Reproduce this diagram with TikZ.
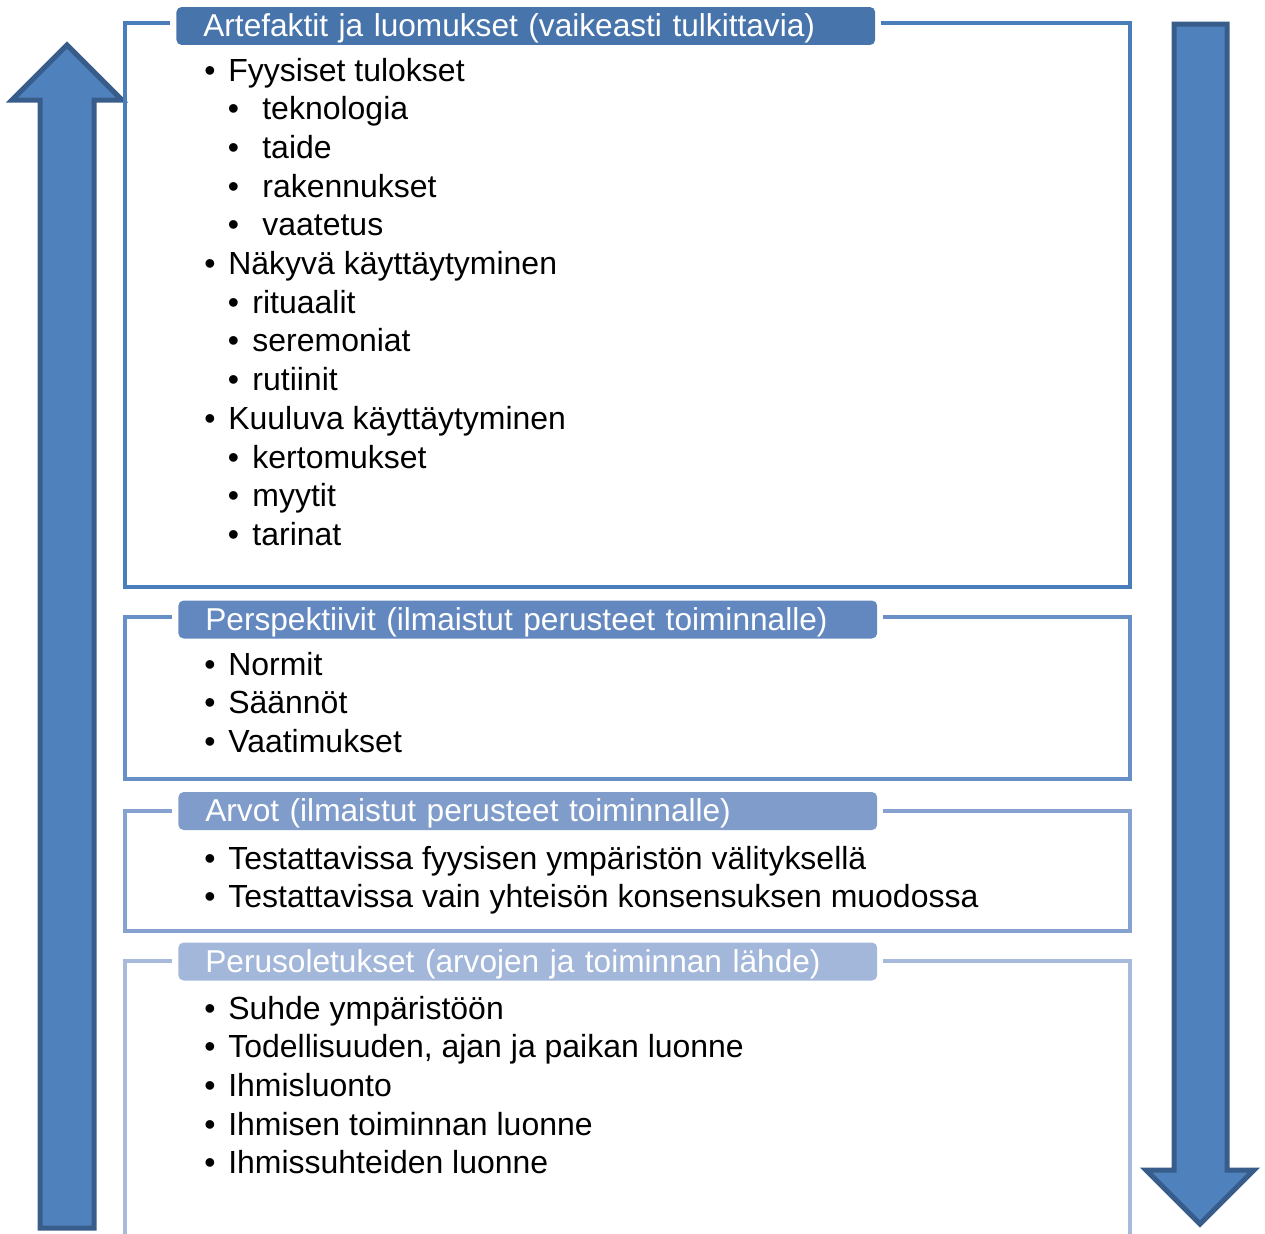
\documentclass[tikz,border=0pt]{standalone}
\usepackage{fontspec}
\setmainfont{Liberation Sans}
\usepackage{xcolor}
\usepackage{tikz}
\usetikzlibrary{positioning}

\definecolor{arrowfill}{HTML}{4F81BD}
\definecolor{arrowline}{HTML}{385D8A}
\definecolor{tabA}{HTML}{4874AC}
\definecolor{tabB}{HTML}{6388BF}
\definecolor{tabC}{HTML}{7F9CCA}
\definecolor{tabD}{HTML}{A3B7DA}
\definecolor{frameA}{HTML}{4A7EBB}
\definecolor{frameB}{HTML}{6990C6}
\definecolor{frameC}{HTML}{85A2D0}
\definecolor{frameD}{HTML}{A7BADC}

\newcommand{\bul}[1]{\textbullet\hspace{#1}}

\begin{document}
\begin{tikzpicture}[
    x=0.02cm, y=-0.02cm,
    tab/.style={rounded corners=3pt, text=white, anchor=west, align=left,
        text width=12.9cm, inner xsep=0.54cm, inner ysep=0pt, minimum height=0.76cm,
        text height=13pt, text depth=1pt,
        font=\fontsize{18}{22}\selectfont},
    frame/.style={line width=0.08cm},
    item/.style={anchor=base west, inner sep=0pt, font=\fontsize{18.2}{22}\selectfont},
    bigarrow/.style={fill=arrowfill, draw=arrowline, line width=0.1cm, line join=miter}
]
    \useasboundingbox (0,0) rectangle (1265,1234);

    % big arrows
    \draw[bigarrow] (40,1228) -- (40,100) -- (12,100) -- (67,45) -- (122,100)
        -- (94,100) -- (94,1228) -- cycle;
    \draw[bigarrow] (1174,24) -- (1174,1170) -- (1146,1170) -- (1200,1224)
        -- (1254,1170) -- (1227,1170) -- (1227,24) -- cycle;

    % frames
    \draw[frame, frameA] (170,23) -- (125,23) -- (125,587) -- (1130,587) -- (1130,23) -- (881,23);
    \draw[frame, frameB] (172,617) -- (125,617) -- (125,779) -- (1130,779) -- (1130,617) -- (883,617);
    \draw[frame, frameC] (172,811) -- (125,811) -- (125,931) -- (1130,931) -- (1130,811) -- (883,811);
    \draw[frame, frameD] (172,961) -- (125,961) -- (125,1234);
    \draw[frame, frameD] (883,961) -- (1130,961) -- (1130,1234);

    % title tabs
    \node[tab, fill=tabA] (tart) at (176,26) {Artefaktit ja luomukset (vaikeasti tulkittavia)};
    \node[tab, fill=tabB] (tper) at (178,619.5) {Perspektiivit (ilmaistut perusteet toiminnalle)};
    \node[tab, fill=tabC] (tarv) at (178,811) {Arvot (ilmaistut perusteet toiminnalle)};
    \node[tab, fill=tabD] (tlah) at (178,961.5) {Perusoletukset (arvojen ja toiminnan lähde)};

    % artefaktit
    \foreach \t/\y [count=\i] in {Fyysiset tulokset/81, Näkyvä käyttäytyminen/274.5, Kuuluva käyttäytyminen/429.3}
        \node[item] (art\i) at (204,\y) {\bul{0.4em}\t};
    \foreach \t/\y [count=\i] in {teknologia/119.7, taide/158.4, rakennukset/197, vaatetus/235.8}
        \node[item] (fyy\i) at (227.5,\y) {\bul{0.73em}\t};
    \foreach \t/\y [count=\i] in {rituaalit/313.2, seremoniat/351.9, rutiinit/390.6,
        kertomukset/468, myytit/506.7, tarinat/545.4}
        \node[item] (kay\i) at (227.5,\y) {\bul{0.42em}\t};

    % perspektiivit
    \foreach \t/\y [count=\i] in {Normit/675, Säännöt/713.7, Vaatimukset/752.4}
        \node[item] (per\i) at (204,\y) {\bul{0.4em}\t};

    % arvot
    \foreach \t/\y [count=\i] in {Testattavissa fyysisen ympäristön välityksellä/869,
        Testattavissa vain yhteisön konsensuksen muodossa/907.7}
        \node[item] (arv\i) at (204,\y) {\bul{0.4em}\t};

    % perusoletukset
    \foreach \t/\y [count=\i] in {Suhde ympäristöön/1019, {Todellisuuden, ajan ja paikan luonne}/1057.7,
        Ihmisluonto/1096.4, Ihmisen toiminnan luonne/1135.1, Ihmissuhteiden luonne/1173.8}
        \node[item] (ole\i) at (204,\y) {\bul{0.4em}\t};
\end{tikzpicture}
\end{document}
